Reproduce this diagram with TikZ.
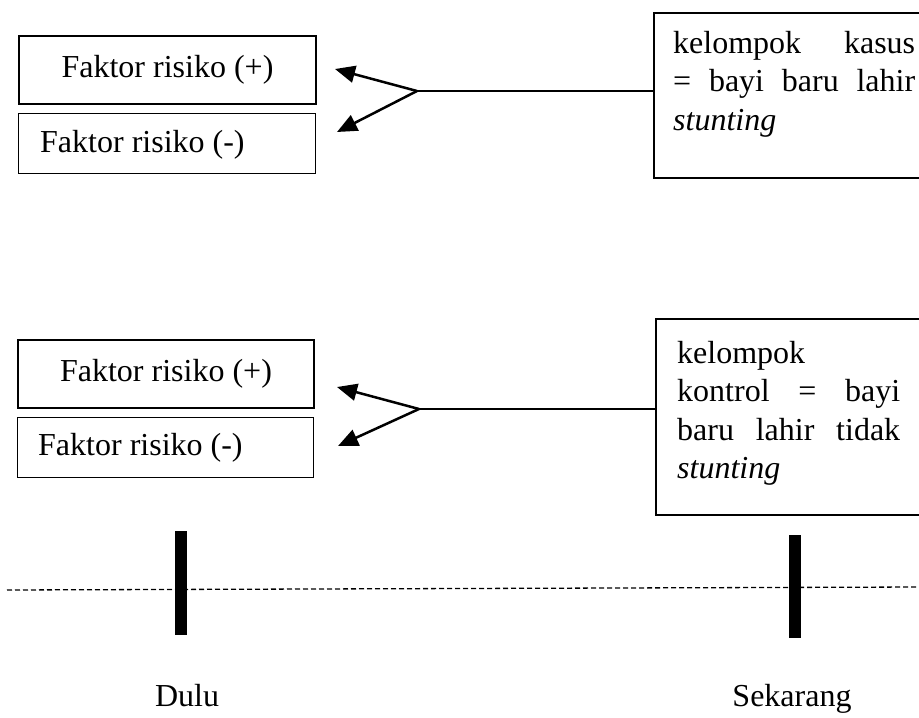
\documentclass[tikz,border=0pt]{standalone}
\usepackage{fontspec}
\setmainfont{Liberation Serif}
\usetikzlibrary{arrows.meta}
\begin{document}
\begin{tikzpicture}[x=1pt,y=-1pt,
  every node/.style={font=\fontsize{32}{38.5}\selectfont},
  fbox/.style={draw, line width=1.3pt, minimum width=297pt, anchor=north west, inner sep=0pt},
  thickbox/.style={fbox, line width=2pt},
  rbox/.style={draw, line width=2pt, anchor=north west, inner sep=0pt},
  rtext/.style={anchor=north west, inner sep=0pt, align=left},
  arr/.style={line width=2.5pt, -{Triangle[length=20pt,width=17pt]}},
  conn/.style={line width=1.3pt},
  bar/.style={line width=12pt},
  timeline/.style={line width=1.3pt, dash pattern=on 5pt off 3pt}]
\useasboundingbox (0,0) rectangle (919,718);

% ---- upper group ----
\node[thickbox, minimum height=68pt] (fp1) at (18,35) {};
\node (fp1t) at (fp1.center) {Faktor risiko (+)};
\node[fbox, minimum height=60pt] (fm1) at (18,113) {};
\node[anchor=west, inner sep=0pt] (fm1t) at (40,145) {Faktor risiko (-)};

\node[rbox, minimum width=266pt, minimum height=165pt] (kasus) at (653,12) {};
\node[rtext, text width=242pt] (kasust) at (673,31) {kelompok\hfill kasus\\
=\hfill bayi\hfill baru\hfill lahir\\
\textit{stunting}};

\coordinate (j1) at (417,91);
\coordinate (a1) at (335,69);
\coordinate (b1) at (337,132);
\draw[conn] (kasus.west |- j1) -- (j1);
\draw[arr] (j1) -- (a1);
\draw[arr] (j1) -- (b1);

% ---- lower group ----
\node[thickbox, minimum height=68pt, minimum width=296pt] (fp2) at (17,339) {};
\node (fp2t) at (fp2.center) {Faktor risiko (+)};
\node[fbox, minimum height=60pt, minimum width=296pt] (fm2) at (17,417) {};
\node[anchor=west, inner sep=0pt] (fm2t) at (38,448) {Faktor risiko (-)};

\node[rbox, minimum width=264pt, minimum height=196pt] (kontrol) at (655,318) {};
\node[rtext, text width=223pt] (kontrolt) at (677,341) {kelompok\\
kontrol\hfill =\hfill bayi\\
baru\hfill lahir\hfill tidak\\
\textit{stunting}};

\coordinate (j2) at (419,409);
\coordinate (a2) at (337,387);
\coordinate (b2) at (338,446);
\draw[conn] (kontrol.west |- j2) -- (j2);
\draw[arr] (j2) -- (a2);
\draw[arr] (j2) -- (b2);

% ---- timeline ----
\draw[timeline] (7,590) -- (919,587);
\draw[bar] (181,531) -- (181,635);
\draw[bar] (795,535) -- (795,638);
\node[anchor=base, inner sep=0pt] (dulu) at (187,706) {Dulu};
\node[anchor=base, inner sep=0pt] (skrg) at (792,706) {Sekarang};
\end{tikzpicture}
\end{document}
